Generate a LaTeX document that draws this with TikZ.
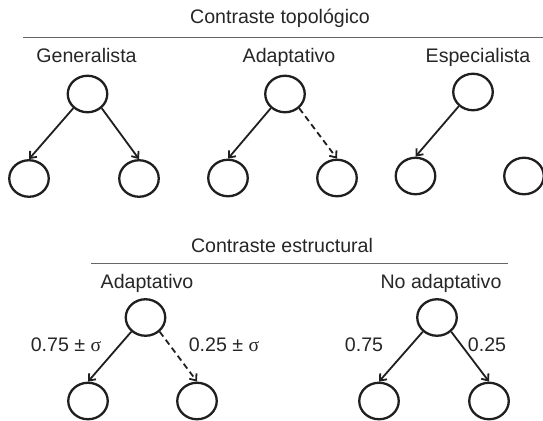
\documentclass[tikz,border=0pt]{standalone}
\usepackage{fontspec}
\setmainfont{Liberation Sans}
\newfontfamily\symserif{Liberation Serif}
\usetikzlibrary{arrows.meta,shapes.geometric}

\begin{document}
\begin{tikzpicture}[x=1pt,y=-1pt,
  txt/.style={font=\fontsize{19.6}{23}\selectfont, text=black!85, anchor=base, inner sep=0pt},
  vtx/.style={ellipse, draw=black!88, line width=2.3pt, minimum width=39.5pt,
              minimum height=36.5pt, inner sep=0pt},
  edge/.style={draw=black!88, line width=1.8pt, -{Straight Barb[length=5.5pt,width=9pt]}},
  weak/.style={edge, dash pattern=on 6pt off 4pt},
  rule/.style={draw=black!60, line width=1.1pt}]
\useasboundingbox (0,0) rectangle (543,420);

% ---------- topological contrast ----------
\node[txt] (ttop) at (280,24) {Contraste topológico};
\coordinate (r1a) at (23,37.4);
\coordinate (r1b) at (543,37.4);
\draw[rule] (r1a) -- (r1b);

\node[txt] (lgen) at (86.5,63) {Generalista};
\node[txt] (lada) at (289,63) {Adaptativo};
\node[txt] (lesp) at (478,63) {Especialista};

% generalist
\node[vtx] (g0) at (87.5,94) {};
\node[vtx] (g1) at (29,178.5) {};
\node[vtx] (g2) at (139,178.5) {};
\draw[edge] (g0.-135) -- (g1.north);
\draw[edge] (g0.-45) -- (g2.north);

% adaptive
\node[vtx] (a0) at (285,94) {};
\node[vtx] (a1) at (228,178) {};
\node[vtx] (a2) at (337,178) {};
\draw[edge] (a0.-135) -- (a1.north);
\draw[weak] (a0.-45) -- (a2.north);

% specialist
\node[vtx] (s0) at (473,92) {};
\node[vtx] (s1) at (415.5,176) {};
\node[vtx] (s2) at (524,176) {};
\draw[edge] (s0.-135) -- (s1.north);

% ---------- structural contrast ----------
\node[txt] (tbot) at (282,252.5) {Contraste estructural};
\coordinate (r2a) at (91,263.3);
\coordinate (r2b) at (508,263.3);
\draw[rule] (r2a) -- (r2b);

\node[txt] (lad2) at (147,288) {Adaptativo};
\node[txt] (lno) at (441,288) {No adaptativo};

% adaptive weights
\node[vtx] (b0) at (145.5,317.5) {};
\node[vtx] (b1) at (88,401) {};
\node[vtx] (b2) at (197,401) {};
\draw[edge] (b0.-135) -- (b1.north);
\draw[weak] (b0.-45) -- (b2.north);
\node[txt] (w1) at (66,351) {0.75 ± {\symserif σ}};
\node[txt] (w2) at (224,351) {0.25 ± {\symserif σ}};

% fixed weights
\node[vtx] (n0) at (437,317.5) {};
\node[vtx] (n1) at (379,401) {};
\node[vtx] (n2) at (489,401) {};
\draw[edge] (n0.-135) -- (n1.north);
\draw[edge] (n0.-45) -- (n2.north);
\node[txt] (w3) at (364,351) {0.75};
\node[txt] (w4) at (487,351) {0.25};
\end{tikzpicture}
\end{document}
